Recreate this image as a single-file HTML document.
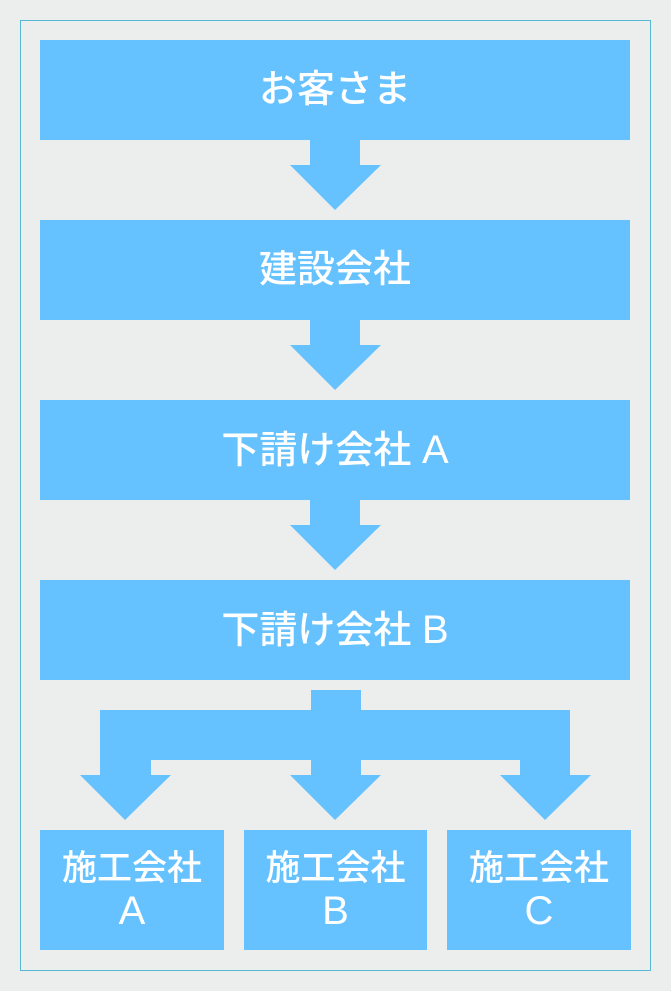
<!DOCTYPE html>
<html><head><meta charset="utf-8"><style>
body{margin:0;width:671px;height:991px;background:#eceeed;position:relative;overflow:hidden;font-family:"Liberation Sans","Noto Sans CJK JP",sans-serif;}
.frame{position:absolute;left:20px;top:20px;width:629px;height:949px;border:1.5px solid #55b8d4;}
.b{position:absolute;background:#66c2fe;color:#fff;display:flex;align-items:center;justify-content:center;text-align:center;font-size:38px;line-height:44px;font-weight:500;}
.s{font-size:35px;line-height:43px;}
.l{font-size:40px;}
svg{position:absolute;left:0;top:0;}
</style></head><body>
<div class="frame"></div>
<div class="b" style="left:40px;top:40px;width:590px;height:100px;">お客さま</div>
<div class="b" style="left:40px;top:220px;width:590px;height:100px;">建設会社</div>
<div class="b" style="left:40px;top:400px;width:590px;height:100px;"><span>下請け会社&nbsp;<span class="l">A</span></span></div>
<div class="b" style="left:40px;top:580px;width:590px;height:100px;"><span>下請け会社&nbsp;<span class="l">B</span></span></div>
<div class="b s" style="left:40px;top:830px;width:184px;height:120px;"><span>施工会社<br><span class="l">A</span></span></div>
<div class="b s" style="left:244px;top:830px;width:183px;height:120px;"><span>施工会社<br><span class="l">B</span></span></div>
<div class="b s" style="left:447px;top:830px;width:184px;height:120px;"><span>施工会社<br><span class="l">C</span></span></div>
<svg width="671" height="991" fill="#66c2fe">
<polygon points="310,140 360,140 360,165 381,165 335,210 290,165 310,165"/>
<polygon points="310,320 360,320 360,345 381,345 335,390 290,345 310,345"/>
<polygon points="310,500 360,500 360,525 381,525 335,570 290,525 310,525"/>
<polygon points="311,690 361,690 361,710 570,710 570,775 591,775 545,820 500,775 520,775 520,760 361,760 361,775 381,775 335,820 290,775 311,775 311,760 151,760 151,775 171,775 125,820 80,775 100,775 100,710 311,710"/>
</svg>
</body></html>
